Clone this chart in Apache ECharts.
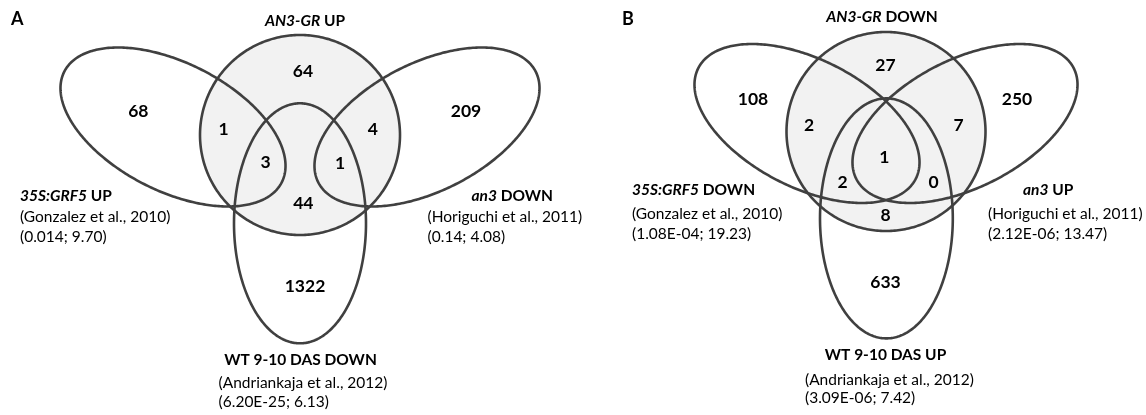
<!DOCTYPE html>
<html>
<head>
<meta charset="utf-8">
<script src="https://cdn.jsdelivr.net/npm/echarts@6/dist/echarts.min.js"></script>
<style>
  html, body { margin: 0; padding: 0; background: #ffffff; }
  #chart { width: 1146px; height: 415px; }
</style>
</head>
<body>
<div id="chart"></div>
<script>
// ---- Data ---------------------------------------------------------------
// Gene counts per Venn region, panel A (AN3-GR UP)
// order: GRF5 only, AN3 only, an3 only, GRF5∩AN3, an3∩AN3, GRF5∩AN3∩WT, an3∩AN3∩WT, AN3∩WT, WT only
const countsA = [68, 64, 209, 1, 4, 3, 1, 44, 1322];
// Gene counts per Venn region, panel B (AN3-GR DOWN)
// order: GRF5 only, AN3 only, an3 only, GRF5∩AN3, an3∩AN3, all four, GRF5∩AN3∩WT, an3∩AN3∩WT, AN3∩WT, WT only
const countsB = [108, 27, 250, 2, 7, 1, 2, 0, 8, 633];

const panelLetters = ['A', 'B'];
// set names: [italic part, plain part]
const setNamesA = [['AN3-GR', ' UP'], ['35S:GRF5', ' UP'], ['an3', ' DOWN'], ['', 'WT 9-10 DAS DOWN']];
const setNamesB = [['AN3-GR', ' DOWN'], ['35S:GRF5', ' DOWN'], ['an3', ' UP'], ['', 'WT 9-10 DAS UP']];
const references = ['(Gonzalez et al., 2010)', '(Horiguchi et al., 2011)', '(Andriankaja et al., 2012)'];
const statsA = ['(0.014; 9.70)', '(0.14; 4.08)', '(6.20E-25; 6.13)'];
const statsB = ['(1.08E-04; 19.23)', '(2.12E-06; 13.47)', '(3.09E-06; 7.42)'];

// ---- Layout (plot units = pixels of the 1146x415 canvas) ----------------
const layoutA = {
  shapes: [
    { cx: 300, cy: 135, a: 100, b: 100, angle: 0, filled: true },   // AN3-GR UP
    { cx: 173, cy: 127, a: 122, b: 64, angle: 27 },                 // 35S:GRF5 UP
    { cx: 427, cy: 127, a: 122, b: 64, angle: -27 },                // an3 DOWN
    { cx: 300, cy: 223.3, a: 66, b: 120, angle: 0 }                 // WT 9-10 DAS DOWN
  ],
  countPos: [[138.3, 111.7], [303, 71.7], [466, 111.7], [223.5, 129.5], [372.8, 129.5],
             [265.5, 162.5], [340, 163], [303.3, 203], [305, 286.5]],
  letter: [11, 19],
  names: [[305, 21, 'center'], [20, 195.5, 'left'], [471.5, 195.5, 'left'], [300.5, 360, 'center']],
  refs: [[20, 217, 237], [427.6, 217, 237], [218.6, 383, 402]]
};
const layoutB = {
  shapes: [
    { cx: 886, cy: 131.5, a: 99.5, b: 99.5, angle: 0, filled: true }, // AN3-GR DOWN
    { cx: 807, cy: 123.5, a: 122, b: 64, angle: 27 },                 // 35S:GRF5 DOWN
    { cx: 965, cy: 123.5, a: 122, b: 64, angle: -27 },                // an3 UP
    { cx: 886.4, cy: 218.4, a: 66.4, b: 120, angle: 0 }               // WT 9-10 DAS UP
  ],
  countPos: [[753, 99.3], [885.5, 65.3], [1017, 99.3], [809, 125], [958.6, 125],
             [884.2, 157.5], [842.6, 182.3], [933.6, 182.3], [885.5, 215.3], [885.5, 282.7]],
  letter: [622, 19],
  names: [[882, 17, 'center'], [632, 190, 'left'], [1023, 190, 'left'], [885.5, 355, 'center']],
  refs: [[632, 214, 234], [988, 214, 234], [805, 380, 398]]
};

const FONT = 'Lato';
const STROKE = '#404040';
const FILL = '#f2f2f2';
const INK = '#000000';

// ---- Build series data --------------------------------------------------
const shapeData = layoutA.shapes.concat(layoutB.shapes);

const countData = [];
countsA.forEach((v, i) => countData.push([layoutA.countPos[i][0], layoutA.countPos[i][1], v]));
countsB.forEach((v, i) => countData.push([layoutB.countPos[i][0], layoutB.countPos[i][1], v]));

// text items: [x, y, text, kind, align]
const textData = [];
function addPanelTexts(layout, letter, names, stats) {
  textData.push([layout.letter[0], layout.letter[1], letter, 'letter', 'left']);
  names.forEach((nm, i) => {
    const p = layout.names[i];
    const rich = (nm[0] ? '{i|' + nm[0] + '}' : '') + '{b|' + nm[1] + '}';
    textData.push([p[0], p[1], rich, 'name', p[2]]);
  });
  for (let k = 0; k < 3; k++) {
    const r = layout.refs[k];
    textData.push([r[0], r[1], references[k], 'ref', 'left']);
    textData.push([r[0], r[2], stats[k], 'ref', 'left']);
  }
}
addPanelTexts(layoutA, panelLetters[0], setNamesA, statsA);
addPanelTexts(layoutB, panelLetters[1], setNamesB, statsB);

function outline(s, n) {
  const c = Math.cos(s.angle * Math.PI / 180), sn = Math.sin(s.angle * Math.PI / 180);
  const pts = [];
  for (let k = 0; k < n; k++) {
    const t = 2 * Math.PI * k / n;
    const u = s.a * Math.cos(t), v = s.b * Math.sin(t);
    pts.push([s.cx + u * c - v * sn, s.cy + u * sn + v * c]);
  }
  return pts;
}

const chart = echarts.init(document.getElementById('chart'), null, { renderer: 'canvas' });
chart.setOption({
  animation: false,
  backgroundColor: '#ffffff',
  grid: { left: 0, right: 0, top: 0, bottom: 0 },
  xAxis: { type: 'value', min: 0, max: 1146, show: false },
  yAxis: { type: 'value', min: 0, max: 415, inverse: true, show: false },
  series: [
    {
      type: 'custom',
      coordinateSystem: 'cartesian2d',
      clip: false,
      silent: true,
      data: shapeData.map((s, i) => [s.cx, s.cy, i]),
      renderItem: function (params, api) {
        const s = shapeData[params.dataIndex];
        const pts = outline(s, 360).map(p => api.coord(p));
        return {
          type: 'polygon',
          shape: { points: pts },
          style: { fill: s.filled ? FILL : 'none', stroke: STROKE, lineWidth: 2.6 }
        };
      }
    },
    {
      type: 'custom',
      coordinateSystem: 'cartesian2d',
      clip: false,
      silent: true,
      data: countData,
      renderItem: function (params, api) {
        const p = api.coord([api.value(0), api.value(1)]);
        return {
          type: 'text',
          x: p[0], y: p[1],
          style: {
            text: String(api.value(2)),
            fill: INK,
            fontFamily: FONT, fontWeight: 'bold', fontSize: 17.5,
            align: 'center', verticalAlign: 'middle'
          }
        };
      }
    },
    {
      type: 'custom',
      coordinateSystem: 'cartesian2d',
      clip: false,
      silent: true,
      data: textData.map(d => [d[0], d[1]]),
      renderItem: function (params, api) {
        const d = textData[params.dataIndex];
        const p = api.coord([d[0], d[1]]);
        const style = { text: d[2], fill: INK, align: d[4], verticalAlign: 'middle', fontFamily: FONT };
        if (d[3] === 'letter') {
          style.fontWeight = 'bold'; style.fontSize = 18;
        } else if (d[3] === 'name') {
          style.fontWeight = 'bold'; style.fontSize = 15.5;
          style.rich = {
            i: { fontFamily: FONT, fontWeight: 'bold', fontStyle: 'italic', fontSize: 15.5, fill: INK },
            b: { fontFamily: FONT, fontWeight: 'bold', fontSize: 15.5, fill: INK }
          };
        } else {
          style.fontWeight = 'normal'; style.fontSize = 15.5;
        }
        return { type: 'text', x: p[0], y: p[1], style: style };
      }
    }
  ]
});
</script>
</body>
</html>
